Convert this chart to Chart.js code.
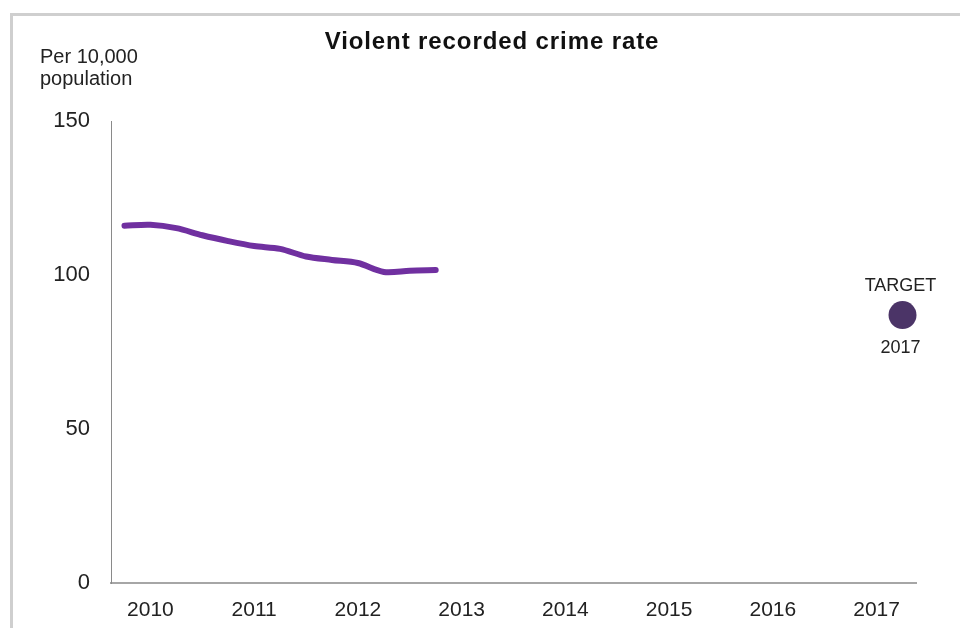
<!DOCTYPE html>
<html>
<head>
<meta charset="utf-8">
<script src="https://cdn.jsdelivr.net/npm/chart.js@4/dist/chart.umd.min.js"></script>
<style>
    html, body { margin: 0; padding: 0; background: #fff; }
    #frame {
        position: absolute; left: 10px; top: 13px; width: 980px; height: 700px;
        border: 3px solid #cfcfcf; box-sizing: border-box;
    }
    #wrap { position: absolute; left: 0; top: 0; width: 960px; height: 628px; }
</style>
</head>
<body>
<div id="frame"></div>
<div id="wrap"><canvas id="crimeChart" width="960" height="628"></canvas></div>
<script>
// Quarterly rolling figures (per 10,000 population)
const quarters = [2009.75, 2010, 2010.25, 2010.5, 2010.75, 2011, 2011.25, 2011.5, 2011.75, 2012, 2012.25, 2012.5, 2012.75];
const rates = [116.0, 116.3, 115.2, 112.9, 111.0, 109.4, 108.5, 106.0, 104.9, 103.9, 101.0, 101.4, 101.6];
const targetYears = [2017.25];
const targetRates = [87];
const yearTicks = [2010, 2011, 2012, 2013, 2014, 2015, 2016, 2017];
const rateTicks = [0, 50, 100, 150];

const FONT = '"Liberation Sans", Arial, sans-serif';

document.addEventListener('DOMContentLoaded', function() {
    const ctx = document.getElementById('crimeChart');

    // texts that sit outside the plot: title, unit label, target annotation
    const labelsPlugin = {
        id: 'extraLabels',
        afterDraw(chart) {
            const c = chart.ctx;
            c.save();
            c.fillStyle = '#111';
            c.textAlign = 'center';
            c.textBaseline = 'alphabetic';
            c.font = 'bold 24px ' + FONT;
            c.letterSpacing = '0.9px';
            c.fillText('Violent recorded crime rate', 492, 49);
            c.letterSpacing = '0px';

            c.fillStyle = '#222';
            c.textAlign = 'left';
            c.font = '20px ' + FONT;
            c.fillText('Per 10,000', 40, 63);
            c.fillText('population', 40, 85);

            const xs = chart.scales.x, ys = chart.scales.y;
            const px = xs.getPixelForValue(targetYears[0]);
            const py = ys.getPixelForValue(targetRates[0]);
            c.textAlign = 'center';
            c.font = '18px ' + FONT;
            c.fillText('TARGET', px - 2, py - 24);
            c.fillText('2017', px - 2, py + 38);
            c.restore();
        }
    };

    new Chart(ctx, {
        type: 'line',
        data: {
            datasets: [{
                label: 'Violent recorded crime rate',
                data: quarters.map((q, i) => ({ x: q, y: rates[i] })),
                borderColor: '#7030a0',
                borderWidth: 6,
                borderCapStyle: 'round',
                borderJoinStyle: 'round',
                pointRadius: 0,
                tension: 0.3,
                fill: false
            }, {
                label: 'Target',
                data: targetYears.map((t, i) => ({ x: t, y: targetRates[i] })),
                showLine: false,
                clip: false,
                pointRadius: 14,
                pointBackgroundColor: '#4b3467',
                pointBorderColor: '#4b3467',
                pointBorderWidth: 0
            }]
        },
        options: {
            responsive: false,
            animation: false,
            layout: {
                padding: { top: 121, right: 44, bottom: 0, left: 0 }
            },
            plugins: {
                legend: { display: false },
                title: { display: false },
                tooltip: { enabled: false }
            },
            scales: {
                x: {
                    type: 'linear',
                    min: 2009.62,
                    max: 2017.38,
                    afterBuildTicks: function(scale) {
                        scale.ticks = yearTicks.map(v => ({ value: v }));
                    },
                    afterFit: function(scale) {
                        scale.height = 45;
                    },
                    grid: { display: false, drawTicks: false },
                    border: { display: true, color: '#a6a6a6', width: 2 },
                    ticks: {
                        padding: 15,
                        color: '#222',
                        font: { family: FONT, size: 21 },
                        callback: v => String(v)
                    }
                },
                y: {
                    min: 0,
                    max: 150,
                    afterBuildTicks: function(scale) {
                        scale.ticks = rateTicks.map(v => ({ value: v }));
                    },
                    afterFit: function(scale) {
                        scale.width = 111;
                    },
                    grid: { display: false, drawTicks: false },
                    border: { display: true, color: '#8a8a8a', width: 1 },
                    ticks: {
                        padding: 21,
                        color: '#222',
                        font: { family: FONT, size: 22 }
                    }
                }
            }
        },
        plugins: [labelsPlugin]
    });
});
</script>
</body>
</html>
